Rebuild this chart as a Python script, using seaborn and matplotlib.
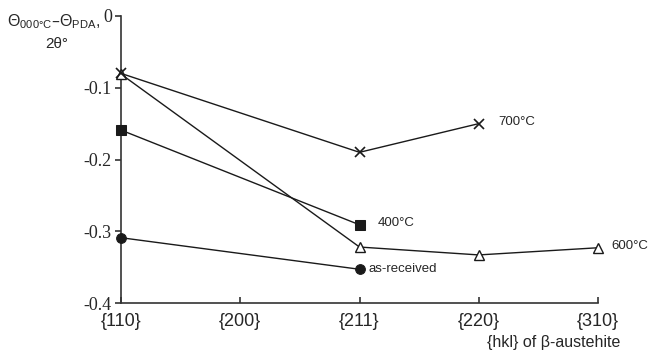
import matplotlib
matplotlib.use("Agg")
import matplotlib.pyplot as plt
import seaborn as sns
import pandas as pd

categories = ["{110}", "{200}", "{211}", "{220}", "{310}"]
s700_x = [0, 2, 3]
s700_y = [-0.08, -0.19, -0.15]
s400_x = [0, 2]
s400_y = [-0.159, -0.291]
s600_x = [0, 2, 3, 4]
s600_y = [-0.081, -0.322, -0.333, -0.323]
sar_x = [0, 2]
sar_y = [-0.309, -0.353]
yticks = [0, -0.1, -0.2, -0.3, -0.4]
ytick_labels = ["0", "-0.1", "-0.2", "-0.3", "-0.4"]

sns.set_style("white")
plt.rcParams["font.family"] = ["Liberation Sans", "DejaVu Sans"]
plt.rcParams["mathtext.default"] = "regular"

fig = plt.figure(figsize=(6.5, 3.62), dpi=100)
ax = fig.add_axes([121/650, 1-303/362, (598-121)/650, (303-16)/362])

C = "#1a1a1a"
series = [
    ("600°C", s600_x, s600_y, dict(marker="^", markersize=7, markerfacecolor="white", markeredgewidth=1.0)),
    ("400°C", s400_x, s400_y, dict(marker="s", markersize=6.5, markerfacecolor=C)),
    ("as-received", sar_x, sar_y, dict(marker="o", markersize=7, markerfacecolor=C)),
    ("700°C", s700_x, s700_y, dict(marker="x", markersize=7.5, markeredgewidth=1.2)),
]
for name, xs, ys, kw in series:
    df = pd.DataFrame({"x": xs, "y": ys})
    sns.lineplot(data=df, x="x", y="y", ax=ax, linewidth=1.0, color=C,
                 markeredgecolor=C, clip_on=False, zorder=3, **kw)

ax.set_xlim(0, 4)
ax.set_ylim(-0.4, 0)
ax.set_xticks(range(len(categories)))
ax.set_xticklabels(categories, fontsize=13)
ax.set_yticks(yticks)
ax.set_yticklabels(ytick_labels, fontsize=13, family="Liberation Serif")
ax.set_xlabel("")
ax.set_ylabel("")
for sp in ["top", "right"]:
    ax.spines[sp].set_visible(False)
for sp in ["left", "bottom"]:
    ax.spines[sp].set_color("#333333")
    ax.spines[sp].set_linewidth(1.2)
    ax.spines[sp].set_zorder(1)
ax.tick_params(axis="y", direction="out", length=4.5, width=1.2, color="#333333", pad=2, left=True)
ax.tick_params(axis="x", direction="in", length=4.5, width=1.2, color="#333333", pad=7, bottom=True)

fs = 9.5
ax.annotate("700°C", xy=(3, -0.15), xytext=(14, 1), textcoords="offset points", va="center", fontsize=fs)
ax.annotate("400°C", xy=(2, -0.291), xytext=(13, 1), textcoords="offset points", va="center", fontsize=fs)
ax.annotate("600°C", xy=(4, -0.323), xytext=(9.5, 1), textcoords="offset points", va="center", fontsize=fs)
ax.annotate("as-received", xy=(2, -0.353), xytext=(6.5, 0), textcoords="offset points", va="center", fontsize=fs)

fig.text(7/650, 1-22/362, r"$\Theta_{000°C}$–$\Theta_{PDA}$,", fontsize=11.5, va="center", ha="left")
fig.text(57/650, 1-44/362, "2θ°", fontsize=11, va="center", ha="center")
fig.text(620/650, 1-343/362, "{hkl} of β-austehite", fontsize=11.5, va="center", ha="right")

fig.savefig("out.png", dpi=100)
